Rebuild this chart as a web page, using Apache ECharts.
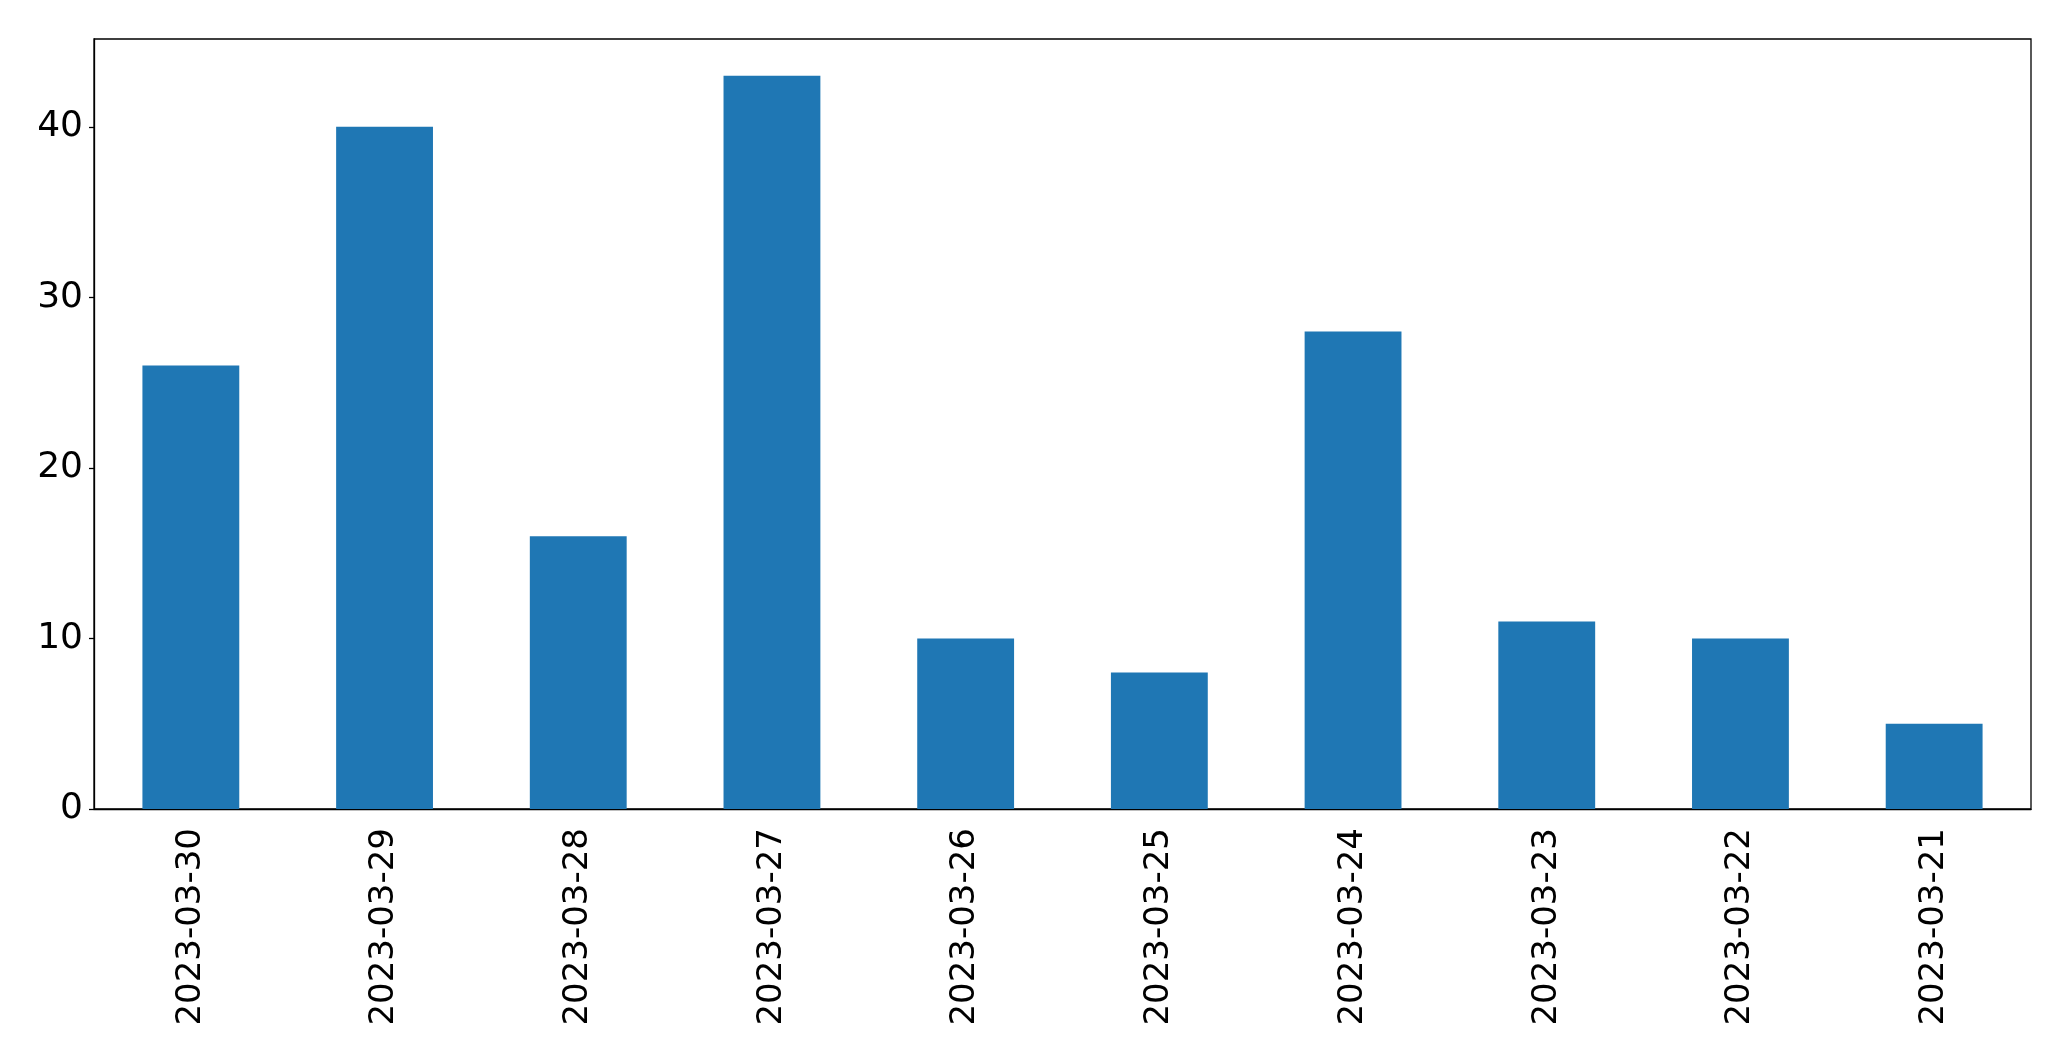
<!DOCTYPE html>
<html><head><meta charset="utf-8">
<script src="https://cdn.jsdelivr.net/npm/echarts@6/dist/echarts.min.js"></script>
<style>html,body{margin:0;padding:0;background:#fff}#c{width:2071px;height:1061px}</style>
</head><body><div id="c"></div>
<script>
const categories = ["2023-03-30","2023-03-29","2023-03-28","2023-03-27","2023-03-26","2023-03-25","2023-03-24","2023-03-23","2023-03-22","2023-03-21"];
const values = [26, 40, 16, 43, 10, 8, 28, 11, 10, 5];
const yTicks = [0, 10, 20, 30, 40];
const yMax = 45.15;

const chart = echarts.init(document.getElementById('c'), null, {renderer: 'canvas'});
const font = 'DejaVu Sans';
chart.setOption({
  animation: false,
  backgroundColor: '#fff',
  grid: {left: 94, right: 40, top: 39, bottom: 252, show: true, borderColor: '#000', borderWidth: 1.3, containLabel: false},
  xAxis: {
    type: 'category', data: categories, boundaryGap: true,
    axisLine: {lineStyle: {color: '#000', width: 1.3}},
    axisTick: {alignWithLabel: true, length: 5, lineStyle: {color: '#000', width: 1.3}},
    axisLabel: {rotate: 90, margin: 19, color: '#000', fontFamily: font, fontSize: 34, interval: 0}
  },
  yAxis: {
    type: 'value', min: 0, max: yMax, interval: 10,
    splitLine: {show: false},
    axisLine: {show: true, lineStyle: {color: '#000', width: 1.3}},
    axisTick: {show: true, length: 5, lineStyle: {color: '#000', width: 1.3}},
    axisLabel: {margin: 11, color: '#000', fontFamily: font, fontSize: 36, showMaxLabel: false,
      formatter: v => yTicks.includes(v) ? String(v) : ''}
  },
  series: [{type: 'bar', data: values, barWidth: '50%', itemStyle: {color: '#1f77b4'}}]
});
</script></body></html>
